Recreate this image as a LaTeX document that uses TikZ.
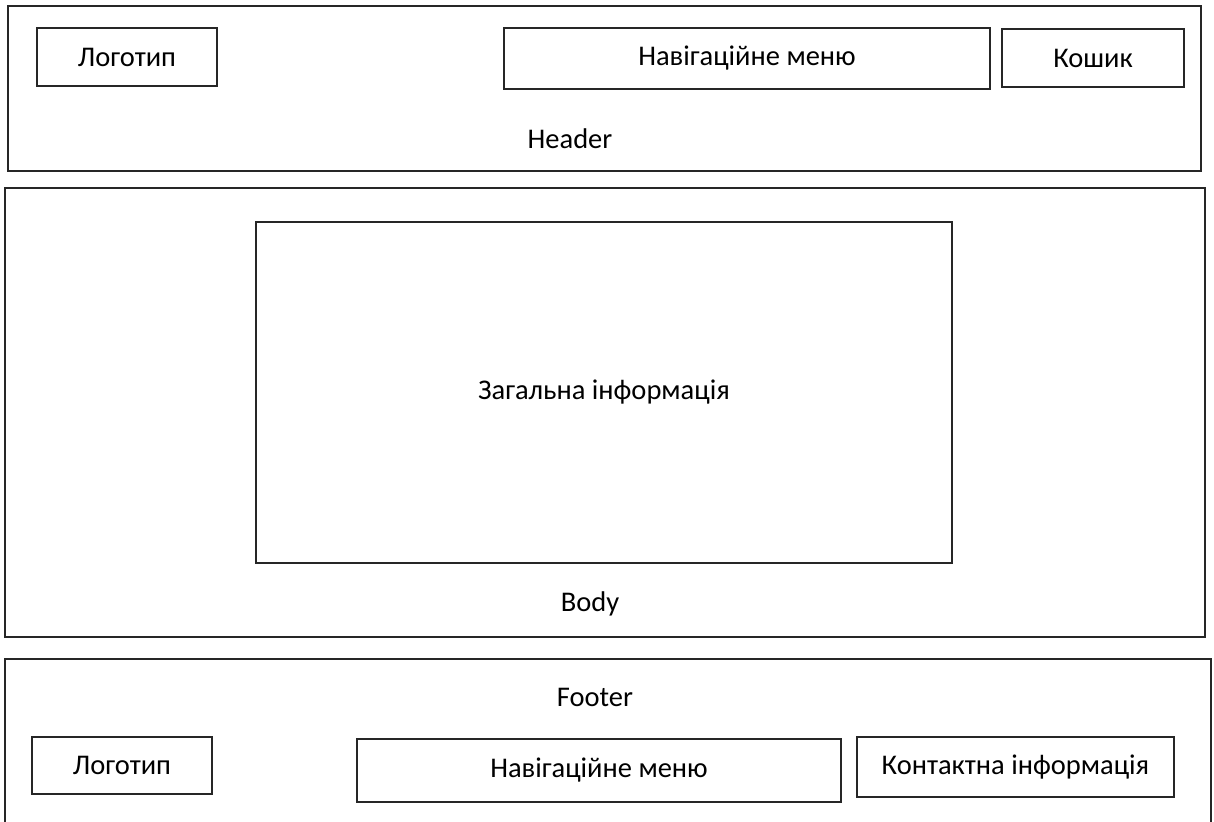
\documentclass[tikz,border=0pt]{standalone}
\usepackage{fontspec}
\setmainfont{Carlito}
\tikzset{
  frame/.style={draw=black!85, line width=1.2pt, inner sep=0pt, outer sep=0pt},
  panel/.style={frame, font=\fontsize{28.5}{32}\selectfont},
  caption/.style={inner sep=0pt, font=\fontsize{28.5}{32}\selectfont}
}
\begin{document}
\begin{tikzpicture}[x=1pt,y=-1pt]
\clip (0,0) rectangle (1214,821);
\fill[white] (0,0) rectangle (1214,821);

% header
\node[frame, minimum width=1193pt, minimum height=165pt] (header) at (604.5,88.5) {};
\node[panel, minimum width=180pt, minimum height=58pt] (hlogo) at (127,57) {Логотип};
\node[panel, minimum width=486pt, minimum height=61pt] (hnav) at (747,58.5) {Навігаційне меню};
\node[panel, minimum width=182pt, minimum height=58pt] (hcart) at (1093,58) {Кошик};
\node[caption] (hlabel) at (570,139) {Header};

% body
\node[frame, minimum width=1200pt, minimum height=449pt] (body) at (605,412.5) {};
\node[panel, minimum width=696pt, minimum height=341pt] (info) at (604,392.5) {Загальна інформація};
\node[caption] (blabel) at (590,604) {Body};

% footer
\node[frame, minimum width=1206pt, minimum height=191pt] (footer) at (608,754.5) {};
\node[caption] (flabel) at (595,697) {Footer};
\node[panel, minimum width=180pt, minimum height=57pt] (flogo) at (122,765.5) {Логотип};
\node[panel, minimum width=484pt, minimum height=63pt] (fnav) at (599,770.5) {Навігаційне меню};
\node[panel, minimum width=317pt, minimum height=60pt] (fcontact) at (1015.5,767) {Контактна інформація};
\end{tikzpicture}
\end{document}
